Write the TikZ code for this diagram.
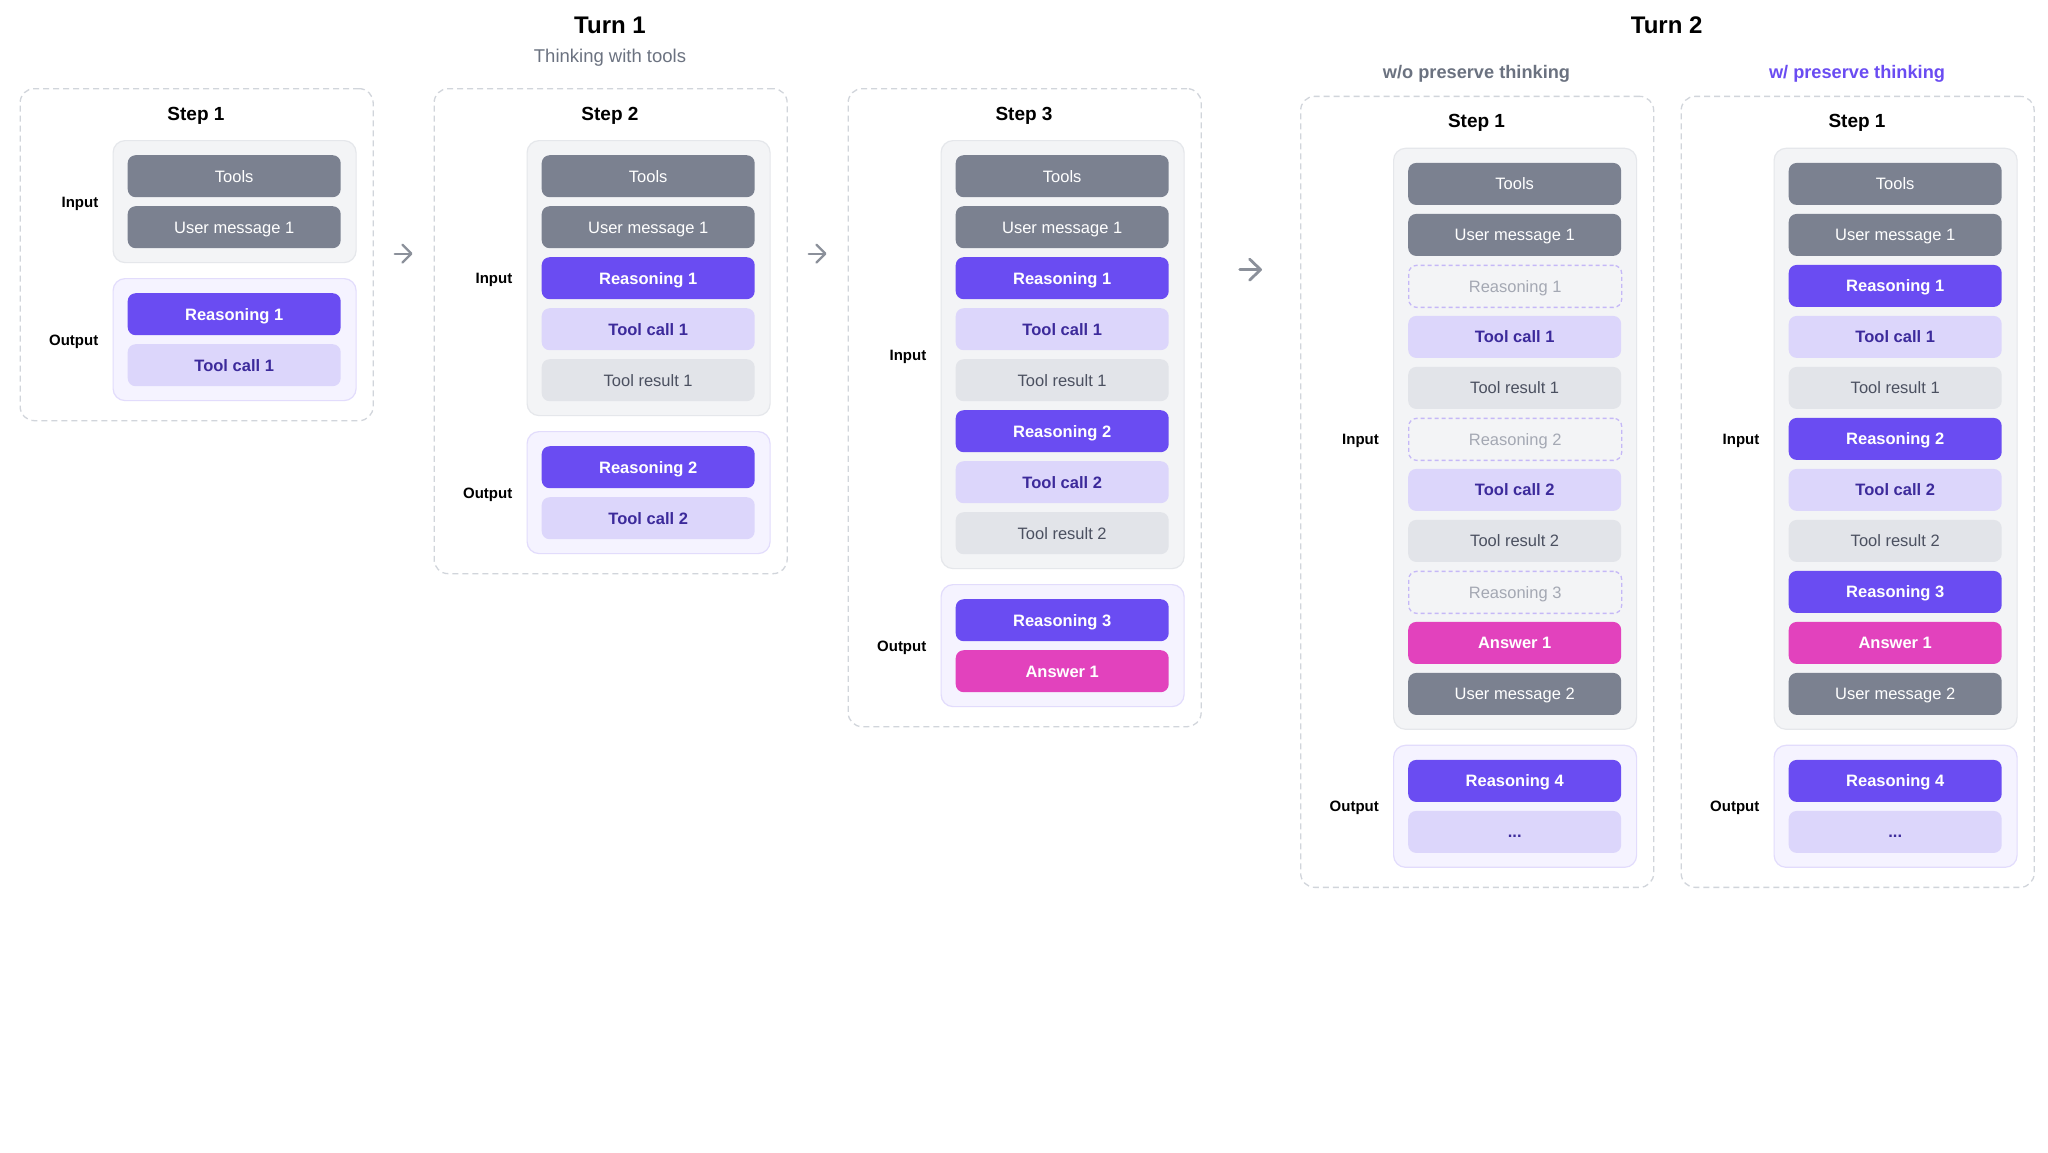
\documentclass[tikz,border=0pt]{standalone}
\usepackage{fontspec}
\setmainfont{Liberation Sans}
\usetikzlibrary{arrows.meta,calc}
\definecolor{cgray}{HTML}{7B8190}
\definecolor{cpurple}{HTML}{6A4CF2}
\definecolor{clav}{HTML}{DCD6FB}
\definecolor{cdkp}{HTML}{3C2A9B}
\definecolor{clgray}{HTML}{E2E4E9}
\definecolor{ctxt}{HTML}{4B5060}
\definecolor{cpink}{HTML}{E242BD}
\definecolor{cpanel}{HTML}{F3F4F6}
\definecolor{cpanelb}{HTML}{E5E7EB}
\definecolor{copanel}{HTML}{F5F3FF}
\definecolor{copanelb}{HTML}{E2DCFC}
\definecolor{cdash}{HTML}{C5B8F7}
\definecolor{cfaint}{HTML}{A4A8B3}
\definecolor{couter}{HTML}{D1D5DB}
\definecolor{csub}{HTML}{6B7280}
\definecolor{carrow}{HTML}{8B909A}
\newcommand\myellip{...}
\tikzset{
  base/.style={rounded corners=8pt, minimum width=213pt, minimum height=42pt, inner sep=0pt,
    text height=12pt, text depth=0pt, font=\fontsize{16.5}{20}\selectfont},
  boldf/.style={font=\fontsize{16.5}{20}\selectfont\bfseries},
  gbox/.style={base, fill=cgray, text=white},
  rbox/.style={base, boldf, fill=cpurple, text=white},
  tcbox/.style={base, boldf, fill=clav, text=cdkp},
  trbox/.style={base, fill=clgray, text=ctxt},
  abox/.style={base, boldf, fill=cpink, text=white},
  hbox/.style={base, fill=cpanel, draw=cdash, dash pattern=on 4pt off 3pt, line width=1.3pt, text=cfaint},
  dbox/.style={base, boldf, fill=clav, text=cdkp},
  outerbox/.style={draw=couter, dash pattern=on 6pt off 4pt, line width=1.3pt, rounded corners=14pt,
    minimum width=353pt, inner sep=0pt},
  inpanel/.style={fill=cpanel, draw=cpanelb, line width=1.2pt, rounded corners=12pt, minimum width=243pt, inner sep=0pt},
  outpanel/.style={fill=copanel, draw=copanelb, line width=1.2pt, rounded corners=12pt, minimum width=243pt, inner sep=0pt},
  lab/.style={anchor=base east, inner sep=0pt, font=\fontsize{15}{18}\selectfont\bfseries, text=black},
  steptitle/.style={anchor=base, inner sep=0pt, font=\fontsize{19}{22}\selectfont\bfseries, text=black},
  arr/.style={draw=carrow, line width=2.3pt, line cap=round,
    -{Straight Barb[length=9pt, width=18pt, line width=2.3pt, round]}},
}
\newcommand\mkcol[8]{%
\pgfmathsetmacro\cInTop{#3+52}%
\pgfmathsetmacro\cInH{20+51*#5}%
\pgfmathsetmacro\cOutTop{\cInTop+\cInH+16}%
\pgfmathsetmacro\cOutH{20+51*#7}%
\pgfmathsetmacro\cOuterH{\cOutTop+\cOutH+20-#3}%
\node[outerbox, minimum height=\cOuterH pt, anchor=north west] (#1) at (#2,#3) {};
\node[steptitle] (#1-title) at (#2+176.5,#3+32) {#4};
\node[inpanel, minimum height=\cInH pt, anchor=north west] (#1-inp) at (#2+93,\cInTop) {};
\node[outpanel, minimum height=\cOutH pt, anchor=north west] (#1-outp) at (#2+93,\cOutTop) {};
\node[lab] (#1-inlab) at ($(#1-inp.west)+(-14,5.4)$) {Input};
\node[lab] (#1-outlab) at ($(#1-outp.west)+(-14,5.4)$) {Output};
\foreach \st/\tx [count=\i] in {#6} {\node[\st, anchor=north west] (#1-in-\i) at (#2+108,\cInTop+15+51*\i-51) {\tx};}
\foreach \st/\tx [count=\i] in {#8} {\node[\st, anchor=north west] (#1-out-\i) at (#2+108,\cOutTop+15+51*\i-51) {\tx};}
}
\begin{document}
\begin{tikzpicture}[x=1pt, y=-1pt]
\fill[white] (0,0) rectangle (2048,1152);
\useasboundingbox (0,0) rectangle (2048,1152);

\node[anchor=base, inner sep=0pt, font=\fontsize{24}{28}\selectfont\bfseries] (turn1) at (610,33.3) {Turn 1};
\node[anchor=base, inner sep=0pt, font=\fontsize{18.5}{22}\selectfont, text=csub] (turn1sub) at (610,62) {Thinking with tools};
\node[anchor=base, inner sep=0pt, font=\fontsize{24}{28}\selectfont\bfseries] (turn2) at (1666.7,33.3) {Turn 2};
\node[anchor=base, inner sep=0pt, font=\fontsize{18.2}{22}\selectfont\bfseries, text=csub] (wo) at (1476.5,78.5) {w/o preserve thinking};
\node[anchor=base, inner sep=0pt, font=\fontsize{18.2}{22}\selectfont\bfseries, text=cpurple] (wp) at (1857,78.5) {w/ preserve thinking};

\mkcol{s1}{19.5}{88}{Step 1}{2}{gbox/Tools, gbox/User message 1}{2}{rbox/Reasoning 1, tcbox/Tool call 1}
\mkcol{s2}{433.5}{88}{Step 2}{5}{gbox/Tools, gbox/User message 1, rbox/Reasoning 1, tcbox/Tool call 1, trbox/Tool result 1}{2}{rbox/Reasoning 2, tcbox/Tool call 2}
\mkcol{s3}{847.5}{88}{Step 3}{8}{gbox/Tools, gbox/User message 1, rbox/Reasoning 1, tcbox/Tool call 1, trbox/Tool result 1, rbox/Reasoning 2, tcbox/Tool call 2, trbox/Tool result 2}{2}{rbox/Reasoning 3, abox/Answer 1}
\mkcol{ta}{1300}{95.7}{Step 1}{11}{gbox/Tools, gbox/User message 1, hbox/Reasoning 1, tcbox/Tool call 1, trbox/Tool result 1, hbox/Reasoning 2, tcbox/Tool call 2, trbox/Tool result 2, hbox/Reasoning 3, abox/Answer 1, gbox/User message 2}{2}{rbox/Reasoning 4, dbox/\myellip}
\mkcol{tb}{1680.5}{95.7}{Step 1}{11}{gbox/Tools, gbox/User message 1, rbox/Reasoning 1, tcbox/Tool call 1, trbox/Tool result 1, rbox/Reasoning 2, tcbox/Tool call 2, trbox/Tool result 2, rbox/Reasoning 3, abox/Answer 1, gbox/User message 2}{2}{rbox/Reasoning 4, dbox/\myellip}

\draw[arr] ($(s1.east)+(21,-1)$) -- ($(s1.east -| s2.west)+(-21,-1)$);
\draw[arr] ($(s2.east |- s1.east)+(21,-1)$) -- ($(s1.east -| s3.west)+(-21,-1)$);
\draw[arr, line width=2.8pt, -{Straight Barb[length=11pt, width=21pt, line width=2.8pt, round]}]
  ($(s3.east |- s1.east)+(38,15)$) -- ($(s1.east -| ta.west)+(-38,15)$);
\end{tikzpicture}
\end{document}
